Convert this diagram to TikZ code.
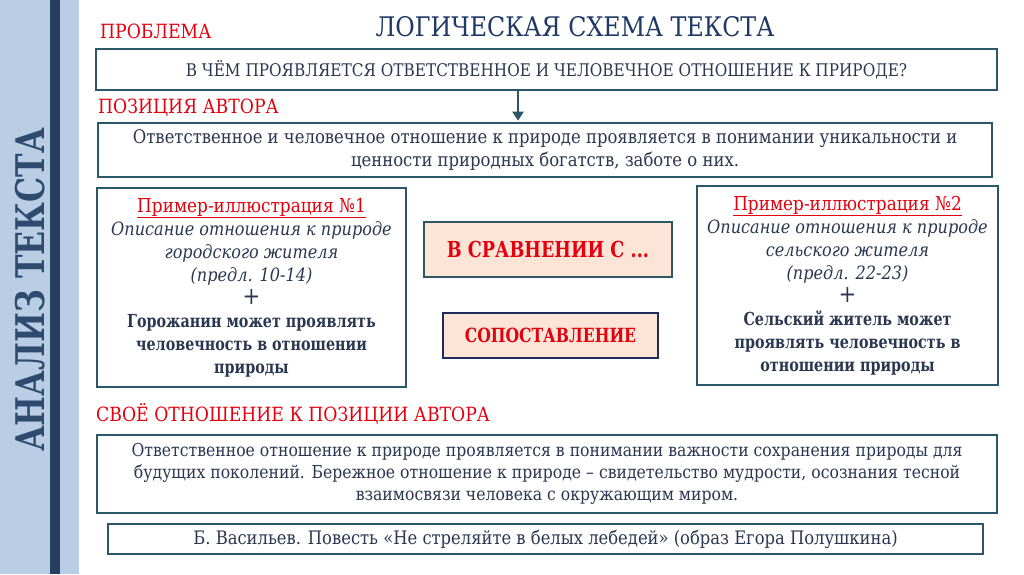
\documentclass[tikz,border=0pt]{standalone}
\usepackage{fontspec}
\setmainfont[FakeStretch=0.88]{DejaVu Serif}
\newfontfamily\nbf[FakeStretch=0.8]{DejaVu Serif}
\usetikzlibrary{arrows.meta}
\definecolor{band}{HTML}{B9CDE5}
\definecolor{stripe}{HTML}{243F60}
\definecolor{vlabel}{HTML}{2E4A6E}
\definecolor{titlec}{HTML}{1F3864}
\definecolor{redc}{HTML}{E3000F}
\definecolor{boxc}{HTML}{2A5866}
\definecolor{txt}{HTML}{2B3650}
\definecolor{peach}{HTML}{FCE4D6}
\definecolor{navyb}{HTML}{1F2D5C}
\begin{document}
\begin{tikzpicture}[x=1pt,y=-1pt,
  frame/.style={draw=boxc, line width=2.6pt, fill=white, inner sep=0pt, align=center, text=txt},
  bodyfont/.style={font=\fontsize{17}{23}\selectfont},
  redlabel/.style={anchor=west, inner sep=0pt, text=redc, font=\fontsize{19.6}{19.6}\selectfont},
  peachbox/.style={line width=2.6pt, fill=peach, inner sep=0pt, text=redc, font=\nbf\bfseries\fontsize{22}{22}\selectfont}]
\useasboundingbox (0,0) rectangle (1024,574);
% left band
\fill[band] (0,0) rectangle (79,574);
\fill[stripe] (50,0) rectangle (60,574);
\node[rotate=90, inner sep=0pt, text=vlabel, font=\nbf\bfseries\fontsize{39.5}{39.5}\selectfont] (vl) at (30,290) {АНАЛИЗ ТЕКСТА};
% title
\node[inner sep=0pt, text=titlec, font=\fontsize{27}{27}\selectfont] (title) at (575,27) {ЛОГИЧЕСКАЯ СХЕМА ТЕКСТА};
% problem
\node[redlabel] (lprob) at (100,31) {ПРОБЛЕМА};
\node[frame, font=\fontsize{17.4}{23}\selectfont, minimum width=901pt, minimum height=41pt] (b1) at (546.5,69.5) {В ЧЁМ ПРОЯВЛЯЕТСЯ ОТВЕТСТВЕННОЕ И ЧЕЛОВЕЧНОЕ ОТНОШЕНИЕ К ПРИРОДЕ?};
% author position
\node[redlabel] (lpos) at (98,108) {ПОЗИЦИЯ АВТОРА};
\node[frame, font=\fontsize{18.7}{23}\selectfont, minimum width=894pt, minimum height=54pt] (b2) at (545,150) {Ответственное и человечное отношение к природе проявляется в понимании уникальности и\\ценности природных богатств, заботе о них.};
\coordinate (ax) at (518,0);
\draw[boxc, line width=2.4pt, -{Triangle[length=9pt,width=11pt]}, shorten >=1pt] (b1.south -| ax) -- (b2.north -| ax);
% examples
\node[frame, bodyfont, minimum width=309pt, minimum height=199pt] (b3) at (251.5,287.5) {%
{\fontsize{19.2}{23}\selectfont\color{redc}\underline{Пример-иллюстрация №1}}\\
{\fontsize{18.3}{23}\selectfont\itshape Описание отношения к природе}\\
{\fontsize{18.3}{23}\selectfont\itshape городского жителя}\\
{\fontsize{18.3}{23}\selectfont\itshape (предл. 10-14)}\\
{\fontsize{24}{23}\selectfont +}\\
{\nbf\bfseries\fontsize{17.9}{23}\selectfont Горожанин может проявлять}\\
{\nbf\bfseries\fontsize{17.9}{23}\selectfont человечность в отношении}\\
{\nbf\bfseries\fontsize{17.9}{23}\selectfont природы}};
\node[frame, bodyfont, minimum width=301pt, minimum height=199pt] (b4) at (847.5,285.5) {%
{\fontsize{19.2}{23}\selectfont\color{redc}\underline{Пример-иллюстрация №2}}\\
{\fontsize{18.3}{23}\selectfont\itshape Описание отношения к природе}\\
{\fontsize{18.3}{23}\selectfont\itshape сельского жителя}\\
{\fontsize{18.3}{23}\selectfont\itshape (предл. 22-23)}\\
{\fontsize{24}{23}\selectfont +}\\
{\nbf\bfseries\fontsize{17.9}{23}\selectfont Сельский житель может}\\
{\nbf\bfseries\fontsize{17.9}{23}\selectfont проявлять человечность в}\\
{\nbf\bfseries\fontsize{17.9}{23}\selectfont отношении природы}};
\node[peachbox, draw=boxc, minimum width=248pt, minimum height=55pt] (b5) at (548,249.5) {В СРАВНЕНИИ С ...};
\node[peachbox, draw=navyb, font=\nbf\bfseries\fontsize{19.5}{19.5}\selectfont, minimum width=215pt, minimum height=45pt] (b6) at (550.5,335.5) {СОПОСТАВЛЕНИЕ};
% own attitude
\node[redlabel] (lown) at (96,414) {СВОЁ ОТНОШЕНИЕ К ПОЗИЦИИ АВТОРА};
\node[frame, font=\fontsize{17.8}{22}\selectfont, minimum width=900pt, minimum height=78pt] (b7) at (547,474) {Ответственное отношение к природе проявляется в понимании важности сохранения природы для\\будущих поколений. Бережное отношение к природе – свидетельство мудрости, осознания тесной\\взаимосвязи человека с окружающим миром.};
\node[frame, font=\fontsize{18.6}{18.6}\selectfont, minimum width=875pt, minimum height=30pt] (b8) at (545.5,539) {Б. Васильев. Повесть «Не стреляйте в белых лебедей» (образ Егора Полушкина)};
\end{tikzpicture}
\end{document}
